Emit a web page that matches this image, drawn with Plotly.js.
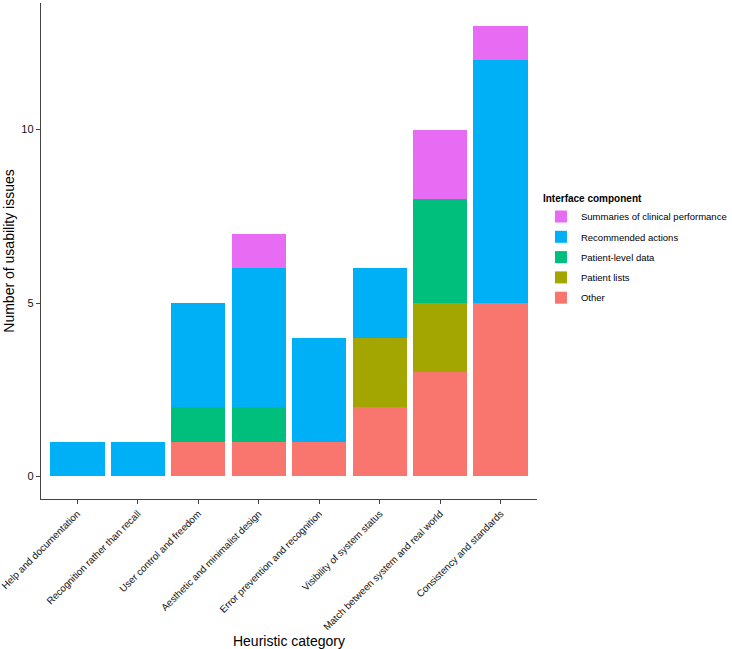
<!DOCTYPE html>
<html><head><meta charset="utf-8">
<script src="https://cdn.plot.ly/plotly-3.0.1.min.js"></script>
<style>html,body{margin:0;padding:0;background:#fff}</style>
</head><body>
<div id="chart" style="width:732px;height:649px"></div>
<script>
const categories = ["Help and documentation","Recognition rather than recall","User control and freedom","Aesthetic and minimalist design","Error prevention and recognition","Visibility of system status","Match between system and real world","Consistency and standards"];
const other        = [0,0,1,1,1,2,3,5];
const patientLists = [0,0,0,0,0,2,2,0];
const patientLevel = [0,0,1,1,0,0,3,0];
const recommended  = [1,1,3,4,3,2,0,7];
const summaries    = [0,0,0,1,0,0,2,1];
const seriesNames  = ["Other","Patient lists","Patient-level data","Recommended actions","Summaries of clinical performance"];
const seriesColors = ["#F8766D","#A3A500","#00BF7D","#00B0F6","#E76BF3"];
const seriesData   = [other, patientLists, patientLevel, recommended, summaries];

const traces = seriesData.map((vals,i)=>({
  type:'bar', name:seriesNames[i], x:categories,
  y:vals.map(v=>v===0?null:v),
  legendgroup:'g'+i,
  legendrank: 100 - i,
  marker:{color:seriesColors[i], line:{width:0}},
  hoverinfo:'x+y+name'
}));

const layout = {
  width:732, height:649,
  margin:{l:41, r:195, t:3, b:150, autoexpand:false},
  barmode:'stack', bargap:0.1,
  paper_bgcolor:'#fff', plot_bgcolor:'#fff',
  font:{family:'Liberation Sans, Arial, sans-serif', color:'#000'},
  xaxis:{
    type:'category', range:[-0.6,7.6], tickangle:-45,
    showline:true, linecolor:'#444', linewidth:1.2,
    ticks:'outside', ticklen:4, tickcolor:'#444',
    tickfont:{size:9.8, color:'#111'}, showgrid:false, zeroline:false,
    title:{text:'Heuristic category', font:{size:14}, standoff:8}
  },
  yaxis:{
    range:[-0.65,13.65], tickvals:[0,5,10], automargin:true,
    showline:true, linecolor:'#444', linewidth:1.2,
    ticks:'outside', ticklen:4, tickcolor:'#444',
    tickfont:{size:11, color:'#111'}, showgrid:false, zeroline:false,
    title:{text:'Number of usability issues', font:{size:14}, standoff:3}
  },
  legend:{
    x:1.008, xanchor:'left', y:0.625, yanchor:'top',
    traceorder:'grouped',
    title:{text:'<b>Interface component</b>', font:{size:10}},
    font:{size:9.5}, itemwidth:30, tracegroupgap:1.3
  },
  showlegend:true
};
Plotly.newPlot('chart', traces, layout, {displayModeBar:false, staticPlot:true});
</script>
</body></html>
